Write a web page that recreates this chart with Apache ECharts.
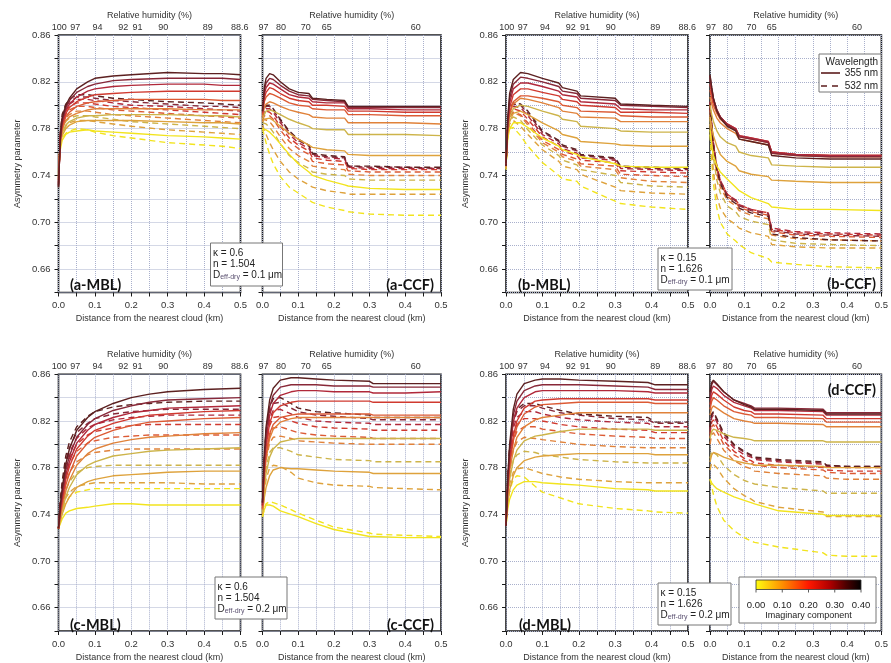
<!DOCTYPE html>
<html>
<head>
<meta charset="utf-8">
<script src="https://cdn.jsdelivr.net/npm/echarts@6/dist/echarts.min.js"></script>
<style>
  html, body { margin: 0; padding: 0; background: #fff; }
  #chart { width: 891px; height: 663px; }
</style>
</head>
<body>
<div id="chart"></div>
<script>
// imaginary component of the refractive index, one colour per value (yellow -> black)
const imagComponents = [0, 0.05, 0.10, 0.15, 0.20, 0.25, 0.30, 0.35, 0.40];
const lineColors = ['#f2e41e', '#dea23c', '#cdb44a', '#e0823a', '#dc5a34', '#d03a30', '#b0283a', '#882838', '#5c2020'];
const colorbarTicks = [0, 0.1, 0.2, 0.3, 0.4];

// top axis: relative humidity at given distance
const rhMBLPos = [0.002, 0.046, 0.107, 0.178, 0.217, 0.288, 0.41, 0.498];
const rhMBLLabels = ['100', '97', '94', '92', '91', '90', '89', '88.6'];
const rhCCFPos = [0.003, 0.052, 0.121, 0.18, 0.429];
const rhCCFLabels = ['97', '80', '70', '65', '60'];

// ---- (a) kappa 0.6, Deff 0.1 ----
const aMBL_x = [0, 0.005, 0.01, 0.02, 0.03, 0.05, 0.08, 0.1, 0.15, 0.2, 0.3, 0.4, 0.45, 0.5];
const aMBL_355 = [
  [0.745, 0.762, 0.770, 0.775, 0.777, 0.778, 0.779, 0.778, 0.777, 0.776, 0.774, 0.773, 0.772, 0.771],
  [0.742, 0.765, 0.774, 0.780, 0.783, 0.786, 0.787, 0.787, 0.787, 0.787, 0.786, 0.785, 0.785, 0.784],
  [0.740, 0.766, 0.776, 0.783, 0.786, 0.789, 0.791, 0.791, 0.792, 0.792, 0.792, 0.791, 0.791, 0.790],
  [0.738, 0.768, 0.779, 0.787, 0.790, 0.793, 0.796, 0.797, 0.797, 0.797, 0.797, 0.796, 0.796, 0.796],
  [0.736, 0.769, 0.781, 0.790, 0.794, 0.799, 0.802, 0.803, 0.804, 0.805, 0.805, 0.805, 0.804, 0.804],
  [0.734, 0.770, 0.783, 0.793, 0.798, 0.803, 0.807, 0.809, 0.810, 0.811, 0.812, 0.812, 0.812, 0.812],
  [0.732, 0.771, 0.785, 0.796, 0.801, 0.807, 0.812, 0.814, 0.816, 0.817, 0.818, 0.818, 0.817, 0.817],
  [0.731, 0.772, 0.787, 0.798, 0.804, 0.811, 0.816, 0.818, 0.821, 0.822, 0.823, 0.823, 0.823, 0.822],
  [0.730, 0.773, 0.789, 0.800, 0.806, 0.814, 0.820, 0.823, 0.825, 0.826, 0.828, 0.827, 0.827, 0.826]
];
const aMBL_532 = [
  [0.748, 0.765, 0.772, 0.776, 0.778, 0.780, 0.779, 0.777, 0.774, 0.772, 0.768, 0.766, 0.765, 0.763],
  [0.745, 0.768, 0.776, 0.782, 0.785, 0.787, 0.787, 0.786, 0.784, 0.782, 0.779, 0.777, 0.776, 0.775],
  [0.743, 0.770, 0.779, 0.786, 0.789, 0.791, 0.791, 0.790, 0.788, 0.786, 0.784, 0.782, 0.781, 0.780],
  [0.740, 0.772, 0.782, 0.789, 0.792, 0.795, 0.795, 0.794, 0.792, 0.791, 0.789, 0.787, 0.786, 0.785],
  [0.738, 0.773, 0.784, 0.792, 0.796, 0.799, 0.799, 0.798, 0.796, 0.795, 0.793, 0.791, 0.790, 0.789],
  [0.736, 0.774, 0.786, 0.795, 0.799, 0.802, 0.802, 0.801, 0.799, 0.798, 0.796, 0.794, 0.793, 0.792],
  [0.734, 0.775, 0.788, 0.797, 0.801, 0.805, 0.805, 0.804, 0.802, 0.800, 0.799, 0.797, 0.796, 0.795],
  [0.732, 0.776, 0.790, 0.799, 0.803, 0.807, 0.807, 0.806, 0.804, 0.803, 0.801, 0.799, 0.799, 0.798],
  [0.730, 0.777, 0.792, 0.801, 0.805, 0.809, 0.809, 0.808, 0.806, 0.805, 0.803, 0.802, 0.801, 0.800]
];

const aCCF_x = [0, 0.005, 0.01, 0.02, 0.03, 0.05, 0.075, 0.1, 0.13, 0.14, 0.18, 0.23, 0.24, 0.3, 0.4, 0.5];
const aCCF_355 = [
  [0.780, 0.780, 0.779, 0.777, 0.774, 0.767, 0.758, 0.750, 0.743, 0.740, 0.736, 0.732, 0.731, 0.729, 0.728, 0.728],
  [0.786, 0.788, 0.789, 0.789, 0.787, 0.782, 0.776, 0.771, 0.766, 0.764, 0.762, 0.761, 0.758, 0.757, 0.757, 0.757],
  [0.788, 0.792, 0.795, 0.796, 0.795, 0.792, 0.788, 0.785, 0.782, 0.780, 0.779, 0.779, 0.775, 0.775, 0.775, 0.774],
  [0.790, 0.798, 0.801, 0.803, 0.802, 0.799, 0.796, 0.794, 0.792, 0.790, 0.789, 0.789, 0.785, 0.785, 0.785, 0.784],
  [0.792, 0.803, 0.807, 0.810, 0.809, 0.806, 0.802, 0.800, 0.799, 0.797, 0.796, 0.796, 0.792, 0.792, 0.791, 0.791],
  [0.793, 0.806, 0.811, 0.815, 0.814, 0.810, 0.806, 0.804, 0.803, 0.800, 0.800, 0.799, 0.795, 0.795, 0.794, 0.794],
  [0.794, 0.809, 0.815, 0.819, 0.818, 0.814, 0.809, 0.807, 0.806, 0.803, 0.802, 0.802, 0.797, 0.797, 0.796, 0.796],
  [0.795, 0.812, 0.819, 0.823, 0.822, 0.817, 0.812, 0.809, 0.808, 0.805, 0.804, 0.803, 0.798, 0.798, 0.798, 0.798],
  [0.795, 0.815, 0.823, 0.827, 0.826, 0.820, 0.814, 0.811, 0.810, 0.806, 0.805, 0.804, 0.799, 0.799, 0.799, 0.799]
];
const aCCF_532 = [
  [0.780, 0.774, 0.768, 0.758, 0.750, 0.739, 0.730, 0.725, 0.719, 0.717, 0.713, 0.710, 0.709, 0.707, 0.706, 0.706],
  [0.783, 0.779, 0.775, 0.768, 0.762, 0.752, 0.743, 0.737, 0.732, 0.730, 0.727, 0.725, 0.724, 0.724, 0.724, 0.724],
  [0.785, 0.785, 0.784, 0.781, 0.777, 0.767, 0.757, 0.751, 0.746, 0.743, 0.741, 0.740, 0.737, 0.736, 0.736, 0.736],
  [0.786, 0.788, 0.788, 0.786, 0.782, 0.773, 0.763, 0.757, 0.752, 0.748, 0.746, 0.745, 0.741, 0.740, 0.740, 0.740],
  [0.787, 0.791, 0.792, 0.791, 0.788, 0.779, 0.769, 0.763, 0.758, 0.752, 0.750, 0.749, 0.744, 0.743, 0.743, 0.743],
  [0.788, 0.793, 0.795, 0.794, 0.791, 0.782, 0.772, 0.766, 0.761, 0.755, 0.753, 0.752, 0.746, 0.745, 0.745, 0.745],
  [0.789, 0.795, 0.797, 0.797, 0.794, 0.785, 0.775, 0.768, 0.763, 0.757, 0.755, 0.754, 0.747, 0.746, 0.746, 0.746],
  [0.790, 0.796, 0.799, 0.799, 0.796, 0.787, 0.777, 0.770, 0.765, 0.758, 0.756, 0.755, 0.748, 0.747, 0.747, 0.746],
  [0.790, 0.797, 0.800, 0.800, 0.797, 0.788, 0.778, 0.771, 0.766, 0.759, 0.757, 0.756, 0.748, 0.748, 0.747, 0.747]
];

// ---- (b) kappa 0.15, Deff 0.1 ----
const bMBL_x = [0, 0.005, 0.01, 0.02, 0.04, 0.06, 0.1, 0.145, 0.155, 0.195, 0.205, 0.3, 0.315, 0.4, 0.5];
const bMBL_355 = [
  [0.750, 0.772, 0.780, 0.785, 0.785, 0.781, 0.772, 0.765, 0.762, 0.758, 0.756, 0.750, 0.748, 0.747, 0.747],
  [0.750, 0.778, 0.786, 0.793, 0.795, 0.792, 0.785, 0.778, 0.775, 0.772, 0.769, 0.767, 0.766, 0.765, 0.765],
  [0.750, 0.780, 0.790, 0.797, 0.800, 0.799, 0.795, 0.791, 0.788, 0.786, 0.782, 0.780, 0.778, 0.777, 0.777],
  [0.750, 0.782, 0.793, 0.801, 0.806, 0.805, 0.802, 0.798, 0.795, 0.793, 0.790, 0.789, 0.786, 0.786, 0.786],
  [0.750, 0.782, 0.794, 0.803, 0.808, 0.808, 0.806, 0.803, 0.800, 0.798, 0.795, 0.794, 0.791, 0.790, 0.790],
  [0.750, 0.784, 0.798, 0.809, 0.814, 0.814, 0.811, 0.808, 0.805, 0.803, 0.800, 0.798, 0.794, 0.794, 0.793],
  [0.750, 0.786, 0.802, 0.814, 0.819, 0.819, 0.816, 0.812, 0.809, 0.807, 0.803, 0.801, 0.797, 0.796, 0.796],
  [0.750, 0.788, 0.806, 0.818, 0.824, 0.823, 0.820, 0.816, 0.812, 0.810, 0.806, 0.804, 0.800, 0.799, 0.798],
  [0.750, 0.790, 0.810, 0.822, 0.828, 0.827, 0.823, 0.819, 0.815, 0.812, 0.808, 0.806, 0.801, 0.800, 0.799]
];
const bMBL_532 = [
  [0.745, 0.774, 0.780, 0.781, 0.774, 0.765, 0.751, 0.740, 0.737, 0.735, 0.731, 0.718, 0.716, 0.713, 0.711],
  [0.746, 0.776, 0.784, 0.787, 0.782, 0.775, 0.762, 0.752, 0.748, 0.745, 0.741, 0.730, 0.727, 0.725, 0.724],
  [0.747, 0.778, 0.787, 0.790, 0.787, 0.779, 0.766, 0.757, 0.753, 0.749, 0.745, 0.740, 0.734, 0.731, 0.730],
  [0.747, 0.780, 0.790, 0.794, 0.791, 0.783, 0.768, 0.760, 0.756, 0.752, 0.748, 0.745, 0.738, 0.735, 0.734],
  [0.748, 0.780, 0.790, 0.794, 0.792, 0.785, 0.770, 0.762, 0.758, 0.754, 0.750, 0.748, 0.741, 0.740, 0.739],
  [0.748, 0.782, 0.792, 0.797, 0.795, 0.788, 0.773, 0.765, 0.761, 0.757, 0.753, 0.751, 0.744, 0.743, 0.742],
  [0.748, 0.783, 0.794, 0.799, 0.798, 0.791, 0.775, 0.767, 0.763, 0.759, 0.755, 0.753, 0.746, 0.745, 0.744],
  [0.748, 0.784, 0.796, 0.801, 0.800, 0.793, 0.777, 0.769, 0.765, 0.761, 0.757, 0.754, 0.747, 0.746, 0.745],
  [0.748, 0.785, 0.797, 0.802, 0.801, 0.795, 0.778, 0.770, 0.766, 0.762, 0.758, 0.755, 0.748, 0.747, 0.746]
];

const bCCF_x = [0, 0.005, 0.01, 0.02, 0.03, 0.05, 0.075, 0.085, 0.12, 0.17, 0.18, 0.25, 0.35, 0.5];
const bCCF_355 = [
  [0.779, 0.766, 0.757, 0.748, 0.743, 0.737, 0.730, 0.727, 0.721, 0.716, 0.713, 0.711, 0.711, 0.710],
  [0.790, 0.781, 0.774, 0.765, 0.758, 0.752, 0.748, 0.744, 0.741, 0.739, 0.736, 0.735, 0.734, 0.734],
  [0.800, 0.792, 0.786, 0.778, 0.773, 0.768, 0.765, 0.760, 0.757, 0.755, 0.749, 0.748, 0.747, 0.747],
  [0.807, 0.801, 0.796, 0.789, 0.785, 0.780, 0.776, 0.771, 0.769, 0.766, 0.759, 0.757, 0.756, 0.756],
  [0.813, 0.806, 0.800, 0.793, 0.788, 0.783, 0.779, 0.773, 0.771, 0.768, 0.760, 0.758, 0.757, 0.757],
  [0.818, 0.810, 0.803, 0.795, 0.790, 0.784, 0.780, 0.774, 0.772, 0.769, 0.760, 0.758, 0.757, 0.757],
  [0.822, 0.813, 0.805, 0.796, 0.790, 0.784, 0.780, 0.774, 0.772, 0.769, 0.760, 0.758, 0.757, 0.757],
  [0.825, 0.815, 0.806, 0.796, 0.790, 0.783, 0.779, 0.773, 0.771, 0.768, 0.759, 0.757, 0.756, 0.756],
  [0.826, 0.815, 0.806, 0.795, 0.789, 0.782, 0.778, 0.771, 0.769, 0.766, 0.757, 0.755, 0.754, 0.754]
];
const bCCF_532 = [
  [0.775, 0.752, 0.733, 0.712, 0.700, 0.690, 0.684, 0.681, 0.674, 0.669, 0.666, 0.664, 0.662, 0.661],
  [0.784, 0.762, 0.743, 0.722, 0.712, 0.703, 0.698, 0.695, 0.691, 0.688, 0.681, 0.679, 0.678, 0.678],
  [0.788, 0.771, 0.755, 0.736, 0.725, 0.714, 0.709, 0.705, 0.701, 0.698, 0.685, 0.682, 0.681, 0.680],
  [0.792, 0.776, 0.760, 0.741, 0.730, 0.719, 0.714, 0.710, 0.706, 0.703, 0.689, 0.686, 0.685, 0.684],
  [0.796, 0.780, 0.764, 0.745, 0.734, 0.722, 0.717, 0.713, 0.709, 0.706, 0.692, 0.689, 0.688, 0.687],
  [0.800, 0.783, 0.767, 0.747, 0.736, 0.724, 0.719, 0.715, 0.711, 0.708, 0.694, 0.691, 0.690, 0.689],
  [0.803, 0.785, 0.768, 0.748, 0.736, 0.724, 0.719, 0.715, 0.711, 0.708, 0.695, 0.692, 0.691, 0.690],
  [0.802, 0.784, 0.767, 0.747, 0.735, 0.723, 0.718, 0.714, 0.710, 0.707, 0.693, 0.690, 0.689, 0.688],
  [0.800, 0.782, 0.765, 0.745, 0.733, 0.721, 0.716, 0.712, 0.708, 0.705, 0.690, 0.687, 0.685, 0.684]
];

// ---- (c) kappa 0.6, Deff 0.2 ----
const cMBL_x = [0, 0.005, 0.01, 0.02, 0.03, 0.05, 0.08, 0.1, 0.15, 0.2, 0.25, 0.3, 0.4, 0.5];
const cMBL_355 = [
  [0.728, 0.732, 0.736, 0.741, 0.743, 0.745, 0.746, 0.747, 0.749, 0.749, 0.748, 0.748, 0.748, 0.748],
  [0.728, 0.734, 0.740, 0.749, 0.755, 0.763, 0.768, 0.770, 0.773, 0.774, 0.775, 0.776, 0.777, 0.777],
  [0.728, 0.736, 0.743, 0.755, 0.763, 0.774, 0.782, 0.785, 0.790, 0.792, 0.794, 0.795, 0.796, 0.797],
  [0.728, 0.738, 0.746, 0.760, 0.769, 0.782, 0.792, 0.796, 0.801, 0.804, 0.806, 0.807, 0.809, 0.810],
  [0.728, 0.740, 0.749, 0.765, 0.775, 0.790, 0.801, 0.806, 0.812, 0.816, 0.819, 0.820, 0.822, 0.823],
  [0.728, 0.742, 0.752, 0.770, 0.781, 0.796, 0.807, 0.812, 0.818, 0.822, 0.825, 0.826, 0.828, 0.829],
  [0.728, 0.744, 0.755, 0.774, 0.785, 0.801, 0.812, 0.817, 0.823, 0.827, 0.829, 0.831, 0.832, 0.833],
  [0.728, 0.746, 0.758, 0.778, 0.790, 0.806, 0.817, 0.822, 0.829, 0.833, 0.836, 0.838, 0.839, 0.840],
  [0.728, 0.748, 0.762, 0.783, 0.796, 0.812, 0.823, 0.828, 0.835, 0.840, 0.843, 0.845, 0.847, 0.848]
];
const cMBL_532 = [
  [0.728, 0.735, 0.741, 0.750, 0.755, 0.759, 0.761, 0.762, 0.762, 0.762, 0.762, 0.762, 0.762, 0.762],
  [0.728, 0.737, 0.744, 0.754, 0.759, 0.764, 0.766, 0.767, 0.767, 0.767, 0.767, 0.767, 0.766, 0.766],
  [0.728, 0.740, 0.748, 0.761, 0.768, 0.776, 0.780, 0.781, 0.782, 0.782, 0.782, 0.782, 0.782, 0.782],
  [0.728, 0.742, 0.752, 0.767, 0.776, 0.785, 0.791, 0.793, 0.795, 0.796, 0.796, 0.796, 0.796, 0.796],
  [0.728, 0.744, 0.756, 0.773, 0.783, 0.794, 0.801, 0.803, 0.806, 0.807, 0.808, 0.808, 0.808, 0.808],
  [0.728, 0.746, 0.759, 0.778, 0.788, 0.800, 0.808, 0.811, 0.814, 0.816, 0.817, 0.817, 0.817, 0.817],
  [0.728, 0.748, 0.762, 0.782, 0.793, 0.805, 0.814, 0.817, 0.821, 0.823, 0.824, 0.825, 0.825, 0.825],
  [0.728, 0.750, 0.765, 0.786, 0.797, 0.810, 0.818, 0.822, 0.826, 0.828, 0.829, 0.830, 0.830, 0.830],
  [0.728, 0.752, 0.768, 0.790, 0.802, 0.815, 0.824, 0.828, 0.832, 0.834, 0.835, 0.836, 0.837, 0.837]
];

const cCCF_x = [0, 0.005, 0.01, 0.02, 0.03, 0.05, 0.08, 0.1, 0.15, 0.2, 0.3, 0.31, 0.4, 0.5];
const cCCF_355 = [
  [0.738, 0.744, 0.748, 0.748, 0.747, 0.743, 0.740, 0.738, 0.732, 0.727, 0.721, 0.721, 0.720, 0.720],
  [0.740, 0.754, 0.763, 0.773, 0.778, 0.780, 0.779, 0.779, 0.778, 0.777, 0.776, 0.775, 0.775, 0.775],
  [0.742, 0.762, 0.775, 0.789, 0.796, 0.802, 0.804, 0.805, 0.805, 0.805, 0.805, 0.805, 0.805, 0.805],
  [0.744, 0.770, 0.787, 0.805, 0.813, 0.819, 0.822, 0.823, 0.823, 0.823, 0.823, 0.823, 0.823, 0.823],
  [0.745, 0.773, 0.791, 0.809, 0.817, 0.823, 0.825, 0.826, 0.826, 0.826, 0.826, 0.825, 0.825, 0.825],
  [0.747, 0.778, 0.798, 0.818, 0.827, 0.833, 0.836, 0.837, 0.837, 0.837, 0.837, 0.836, 0.836, 0.836],
  [0.748, 0.782, 0.804, 0.825, 0.835, 0.842, 0.845, 0.846, 0.846, 0.845, 0.845, 0.844, 0.844, 0.845],
  [0.750, 0.786, 0.810, 0.832, 0.842, 0.849, 0.851, 0.851, 0.851, 0.850, 0.850, 0.849, 0.849, 0.849],
  [0.750, 0.790, 0.815, 0.838, 0.848, 0.855, 0.857, 0.857, 0.856, 0.855, 0.854, 0.852, 0.852, 0.852]
];
const cCCF_532 = [
  [0.738, 0.745, 0.749, 0.751, 0.750, 0.748, 0.744, 0.741, 0.735, 0.729, 0.724, 0.723, 0.722, 0.721],
  [0.740, 0.758, 0.770, 0.780, 0.782, 0.781, 0.776, 0.771, 0.767, 0.765, 0.764, 0.763, 0.762, 0.761],
  [0.742, 0.765, 0.780, 0.793, 0.797, 0.797, 0.794, 0.791, 0.789, 0.787, 0.786, 0.785, 0.785, 0.785],
  [0.744, 0.771, 0.787, 0.801, 0.806, 0.807, 0.805, 0.803, 0.802, 0.801, 0.800, 0.800, 0.800, 0.800],
  [0.745, 0.775, 0.792, 0.808, 0.814, 0.815, 0.812, 0.810, 0.808, 0.807, 0.806, 0.805, 0.805, 0.805],
  [0.747, 0.780, 0.799, 0.816, 0.823, 0.824, 0.820, 0.818, 0.815, 0.814, 0.813, 0.812, 0.812, 0.812],
  [0.748, 0.784, 0.804, 0.822, 0.829, 0.830, 0.826, 0.823, 0.820, 0.819, 0.818, 0.817, 0.817, 0.817],
  [0.750, 0.788, 0.809, 0.828, 0.835, 0.836, 0.831, 0.828, 0.825, 0.824, 0.822, 0.821, 0.821, 0.821],
  [0.750, 0.790, 0.812, 0.832, 0.839, 0.840, 0.835, 0.831, 0.828, 0.827, 0.825, 0.823, 0.823, 0.823]
];

// ---- (d) kappa 0.15, Deff 0.2 ----
const dMBL_x = [0, 0.005, 0.01, 0.02, 0.03, 0.05, 0.08, 0.1, 0.15, 0.2, 0.3, 0.39, 0.41, 0.5];
const dMBL_355 = [
  [0.730, 0.745, 0.753, 0.761, 0.765, 0.768, 0.768, 0.767, 0.766, 0.765, 0.762, 0.761, 0.760, 0.760],
  [0.730, 0.750, 0.761, 0.773, 0.780, 0.786, 0.789, 0.790, 0.791, 0.792, 0.792, 0.792, 0.791, 0.791],
  [0.730, 0.755, 0.770, 0.786, 0.795, 0.803, 0.807, 0.808, 0.811, 0.813, 0.813, 0.813, 0.812, 0.812],
  [0.730, 0.759, 0.777, 0.795, 0.806, 0.815, 0.821, 0.823, 0.825, 0.827, 0.827, 0.827, 0.827, 0.827],
  [0.730, 0.762, 0.782, 0.803, 0.815, 0.826, 0.832, 0.834, 0.835, 0.836, 0.836, 0.836, 0.835, 0.835],
  [0.730, 0.764, 0.785, 0.807, 0.820, 0.831, 0.837, 0.838, 0.839, 0.839, 0.839, 0.839, 0.838, 0.838],
  [0.730, 0.768, 0.792, 0.819, 0.831, 0.840, 0.845, 0.846, 0.846, 0.846, 0.846, 0.845, 0.844, 0.844],
  [0.730, 0.770, 0.796, 0.825, 0.837, 0.846, 0.850, 0.851, 0.851, 0.851, 0.850, 0.849, 0.847, 0.847],
  [0.730, 0.772, 0.800, 0.830, 0.843, 0.852, 0.855, 0.856, 0.856, 0.855, 0.854, 0.853, 0.851, 0.851]
];
const dMBL_532 = [
  [0.730, 0.750, 0.760, 0.770, 0.773, 0.772, 0.764, 0.759, 0.754, 0.749, 0.745, 0.743, 0.742, 0.741],
  [0.730, 0.754, 0.766, 0.776, 0.779, 0.780, 0.777, 0.775, 0.772, 0.770, 0.768, 0.767, 0.767, 0.767],
  [0.730, 0.758, 0.773, 0.786, 0.791, 0.794, 0.793, 0.791, 0.789, 0.787, 0.785, 0.784, 0.784, 0.784],
  [0.730, 0.762, 0.779, 0.795, 0.802, 0.806, 0.805, 0.804, 0.802, 0.800, 0.798, 0.797, 0.797, 0.797],
  [0.730, 0.765, 0.784, 0.803, 0.811, 0.815, 0.815, 0.813, 0.811, 0.809, 0.807, 0.806, 0.805, 0.805],
  [0.730, 0.767, 0.788, 0.809, 0.817, 0.822, 0.822, 0.820, 0.817, 0.815, 0.813, 0.812, 0.810, 0.810],
  [0.730, 0.769, 0.792, 0.814, 0.823, 0.828, 0.828, 0.826, 0.823, 0.821, 0.819, 0.818, 0.815, 0.815],
  [0.730, 0.771, 0.795, 0.818, 0.828, 0.833, 0.833, 0.831, 0.827, 0.825, 0.822, 0.821, 0.818, 0.818],
  [0.730, 0.772, 0.797, 0.820, 0.830, 0.835, 0.835, 0.833, 0.829, 0.826, 0.824, 0.823, 0.819, 0.819]
];

const dCCF_x = [0, 0.005, 0.01, 0.02, 0.04, 0.07, 0.1, 0.12, 0.13, 0.2, 0.33, 0.34, 0.4, 0.5];
const dCCF_355 = [
  [0.770, 0.767, 0.765, 0.762, 0.759, 0.755, 0.752, 0.750, 0.749, 0.743, 0.740, 0.739, 0.739, 0.739],
  [0.785, 0.791, 0.793, 0.792, 0.789, 0.786, 0.784, 0.783, 0.782, 0.782, 0.781, 0.780, 0.780, 0.780],
  [0.805, 0.811, 0.813, 0.812, 0.809, 0.806, 0.805, 0.804, 0.803, 0.803, 0.803, 0.802, 0.802, 0.802],
  [0.825, 0.831, 0.833, 0.831, 0.827, 0.822, 0.820, 0.819, 0.818, 0.818, 0.817, 0.815, 0.815, 0.815],
  [0.830, 0.837, 0.840, 0.838, 0.833, 0.828, 0.826, 0.825, 0.823, 0.823, 0.822, 0.819, 0.819, 0.819],
  [0.834, 0.842, 0.845, 0.843, 0.838, 0.832, 0.829, 0.828, 0.826, 0.826, 0.825, 0.822, 0.822, 0.822],
  [0.838, 0.847, 0.850, 0.848, 0.842, 0.836, 0.833, 0.831, 0.829, 0.829, 0.828, 0.825, 0.825, 0.825],
  [0.842, 0.851, 0.854, 0.851, 0.845, 0.838, 0.835, 0.833, 0.831, 0.831, 0.830, 0.827, 0.827, 0.827],
  [0.845, 0.853, 0.855, 0.852, 0.845, 0.838, 0.834, 0.832, 0.830, 0.830, 0.829, 0.826, 0.826, 0.826]
];
const dCCF_532 = [
  [0.770, 0.764, 0.757, 0.747, 0.735, 0.726, 0.720, 0.717, 0.716, 0.712, 0.707, 0.705, 0.704, 0.704],
  [0.778, 0.784, 0.784, 0.780, 0.771, 0.762, 0.756, 0.753, 0.751, 0.746, 0.742, 0.738, 0.738, 0.738],
  [0.788, 0.794, 0.795, 0.791, 0.782, 0.774, 0.769, 0.767, 0.766, 0.763, 0.760, 0.758, 0.758, 0.758],
  [0.800, 0.808, 0.810, 0.805, 0.795, 0.786, 0.781, 0.779, 0.777, 0.775, 0.773, 0.771, 0.770, 0.770],
  [0.806, 0.815, 0.817, 0.811, 0.800, 0.791, 0.786, 0.784, 0.782, 0.780, 0.778, 0.776, 0.775, 0.775],
  [0.809, 0.819, 0.821, 0.815, 0.803, 0.794, 0.788, 0.786, 0.784, 0.782, 0.780, 0.778, 0.777, 0.777],
  [0.812, 0.823, 0.825, 0.819, 0.807, 0.797, 0.791, 0.789, 0.787, 0.785, 0.783, 0.781, 0.780, 0.780],
  [0.814, 0.825, 0.827, 0.821, 0.809, 0.799, 0.793, 0.790, 0.788, 0.786, 0.784, 0.782, 0.781, 0.781],
  [0.815, 0.826, 0.828, 0.822, 0.810, 0.800, 0.794, 0.791, 0.789, 0.787, 0.785, 0.782, 0.781, 0.781]
];

const FONT = '"Liberation Sans", Arial, sans-serif';
const TXT = '#333';

// layout of the eight plotting boxes
const TOP1 = 35, H1 = 257.5, TOP2 = 374.3, H2 = 257.8;
const panels = [
  { tag: '(a-MBL)', kind: 'MBL', x: aMBL_x, s: aMBL_355, d: aMBL_532, box: [58.5, TOP1, 182, H1], lab: [70, 285, 'left'] },
  { tag: '(a-CCF)', kind: 'CCF', x: aCCF_x, s: aCCF_355, d: aCCF_532, box: [262.5, TOP1, 178.5, H1], lab: [434, 285, 'right'] },
  { tag: '(b-MBL)', kind: 'MBL', x: bMBL_x, s: bMBL_355, d: bMBL_532, box: [506, TOP1, 182, H1], lab: [518, 285, 'left'] },
  { tag: '(b-CCF)', kind: 'CCF', x: bCCF_x, s: bCCF_355, d: bCCF_532, box: [710, TOP1, 178, H1], lab: [876, 284, 'right'] },
  { tag: '(c-MBL)', kind: 'MBL', x: cMBL_x, s: cMBL_355, d: cMBL_532, box: [58.5, TOP2, 182, H2], lab: [70, 625, 'left'] },
  { tag: '(c-CCF)', kind: 'CCF', x: cCCF_x, s: cCCF_355, d: cCCF_532, box: [262.5, TOP2, 178.5, H2], lab: [434, 625, 'right'] },
  { tag: '(d-MBL)', kind: 'MBL', x: dMBL_x, s: dMBL_355, d: dMBL_532, box: [506, TOP2, 182, H2], lab: [519, 625, 'left'] },
  { tag: '(d-CCF)', kind: 'CCF', x: dCCF_x, s: dCCF_355, d: dCCF_532, box: [710, TOP2, 178, H2], lab: [876, 390, 'right'] }
];

const grids = [], xAxes = [], yAxes = [], series = [];
const gridLine = { show: true, lineStyle: { color: '#a9b0cc', type: 'dotted', width: 1 } };

panels.forEach((p, i) => {
  const [l, t, w, h] = p.box;
  grids.push({ left: l, top: t, width: w, height: h, show: true, borderColor: '#1a1a1a', borderWidth: 1.6, backgroundColor: 'transparent' });
  const rhPos = p.kind === 'MBL' ? rhMBLPos : rhCCFPos;
  const rhLab = p.kind === 'MBL' ? rhMBLLabels : rhCCFLabels;
  xAxes.push({
    type: 'value', gridIndex: i, position: 'bottom', min: 0, max: 0.5, interval: 0.05,
    axisLine: { show: false },
    axisTick: { show: true, length: 4, lineStyle: { color: '#1a1a1a' } },
    axisLabel: { fontSize: 9.5, color: TXT, fontFamily: FONT, margin: 8,
      formatter: v => (Math.round(v * 100) % 10 === 0 ? v.toFixed(1) : '') },
    splitLine: gridLine,
    name: 'Distance from the nearest cloud (km)', nameLocation: 'middle', nameGap: 22,
    nameTextStyle: { fontSize: 9, color: TXT, fontFamily: FONT }
  });
  xAxes.push({
    type: 'value', gridIndex: i, position: 'top', min: 0, max: 0.5,
    axisLine: { show: false }, axisTick: { show: false }, splitLine: { show: false },
    axisLabel: { customValues: rhPos, fontSize: 9, color: TXT, fontFamily: FONT, margin: 3,
      formatter: v => { const k = rhPos.findIndex(q => Math.abs(q - v) < 1e-6); return k >= 0 ? rhLab[k] : ''; } },
    name: 'Relative humidity (%)', nameLocation: 'middle', nameGap: 15,
    nameTextStyle: { fontSize: 9, color: TXT, fontFamily: FONT }
  });
  yAxes.push({
    type: 'value', gridIndex: i, min: 0.64, max: 0.86, interval: 0.02,
    axisLine: { show: false },
    axisTick: { show: true, length: 4, lineStyle: { color: '#1a1a1a' } },
    axisLabel: { show: p.kind === 'MBL', fontSize: 9.5, color: TXT, fontFamily: FONT, margin: 8,
      formatter: v => (Math.round(v * 100) % 4 === 2 ? v.toFixed(2) : '') },
    splitLine: gridLine,
    name: p.kind === 'MBL' ? 'Asymmetry parameter' : '', nameLocation: 'middle', nameGap: 36, nameRotate: 90,
    nameTextStyle: { fontSize: 9, color: TXT, fontFamily: FONT }
  });
  imagComponents.forEach((im, j) => {
    series.push({
      type: 'line', xAxisIndex: 2 * i, yAxisIndex: i, symbol: 'none', silent: true, z: 2,
      name: '532 nm ' + im, data: p.x.map((x, k) => [x, p.d[j][k]]),
      lineStyle: { color: lineColors[j], width: 1.4, type: [6, 4] }
    });
    series.push({
      type: 'line', xAxisIndex: 2 * i, yAxisIndex: i, symbol: 'none', silent: true, z: 3,
      name: '355 nm ' + im, data: p.x.map((x, k) => [x, p.s[j][k]]),
      lineStyle: { color: lineColors[j], width: 1.4 }
    });
  });
});

// annotation boxes
const Z = 100;
function infoBox(x, y, w, h, kappa, n, dd) {
  return {
    type: 'group', z: Z, children: [
      { type: 'rect', z: Z, shape: { x: x, y: y, width: w, height: h }, style: { fill: '#fff', stroke: '#777', lineWidth: 1 } },
      { type: 'text', z: Z + 1, x: x + 2.5, y: y + 5, style: {
        text: '{t|κ = ' + kappa + '}\n{t|n = ' + n + '}\n{t|D}{s|eff-dry}{t| = ' + dd + ' μm}',
        rich: { t: { fontSize: 10, fontFamily: FONT, fill: '#222', lineHeight: 11 },
                s: { fontSize: 7, fontFamily: FONT, fill: '#5a5070', lineHeight: 11, verticalAlign: 'bottom', padding: [4, 0, 0, 0] } }
      } }
    ]
  };
}

const graphics = [
  infoBox(210.5, 243, 72, 43, '0.6', '1.504', '0.1'),
  infoBox(658, 248, 74, 42, '0.15', '1.626', '0.1'),
  infoBox(215, 577, 72, 42, '0.6', '1.504', '0.2'),
  infoBox(658, 583, 73, 42, '0.15', '1.626', '0.2')
];

panels.forEach(p => {
  graphics.push({ type: 'text', z: Z, x: p.lab[0], y: p.lab[1], style: {
    text: p.tag, fontSize: 14.5, fontWeight: 'bold', fontFamily: 'Lato, "Open Sans", sans-serif', fill: '#111',
    align: p.lab[2], verticalAlign: 'middle' } });
});

// wavelength legend
graphics.push({ type: 'group', z: Z, children: [
  { type: 'rect', z: Z, shape: { x: 819, y: 54, width: 62, height: 38 }, style: { fill: '#fff', stroke: '#777', lineWidth: 1 } },
  { type: 'text', z: Z + 1, x: 878, y: 62, style: { text: 'Wavelength', fontSize: 10, fontFamily: FONT, fill: '#222', align: 'right', verticalAlign: 'middle' } },
  { type: 'line', z: Z + 1, shape: { x1: 821, y1: 73, x2: 840, y2: 73 }, style: { stroke: '#5c1c1c', lineWidth: 1.6 } },
  { type: 'text', z: Z + 1, x: 878, y: 73, style: { text: '355 nm', fontSize: 10, fontFamily: FONT, fill: '#222', align: 'right', verticalAlign: 'middle' } },
  { type: 'line', z: Z + 1, shape: { x1: 821, y1: 86, x2: 840, y2: 86 }, style: { stroke: '#5c1c1c', lineWidth: 1.6, lineDash: [6, 5] } },
  { type: 'text', z: Z + 1, x: 878, y: 86, style: { text: '532 nm', fontSize: 10, fontFamily: FONT, fill: '#222', align: 'right', verticalAlign: 'middle' } }
] });

// imaginary component colour bar
const cbX = 756, cbW = 105, cbY = 580, cbH = 9.5;
const cbChildren = [
  { type: 'rect', z: Z, shape: { x: 739, y: 577, width: 137, height: 46 }, style: { fill: '#fff', stroke: '#777', lineWidth: 1 } },
  { type: 'rect', z: Z + 1, shape: { x: cbX, y: cbY, width: cbW, height: cbH }, style: {
    fill: new echarts.graphic.LinearGradient(0, 0, 1, 0, [
      { offset: 0, color: '#ffff10' }, { offset: 0.25, color: '#ff9000' }, { offset: 0.5, color: '#ff1800' },
      { offset: 0.7, color: '#b00000' }, { offset: 0.86, color: '#4a0000' }, { offset: 1, color: '#000000' }]),
    stroke: '#333', lineWidth: 0.8 } },
  { type: 'text', z: Z + 1, x: 808.5, y: 616, style: { text: 'Imaginary component', fontSize: 9, fontFamily: FONT, fill: '#222', align: 'center', verticalAlign: 'middle' } }
];
colorbarTicks.forEach(v => {
  const px = cbX + cbW * v / 0.4;
  cbChildren.push({ type: 'line', z: Z + 1, shape: { x1: px, y1: cbY + cbH, x2: px, y2: cbY + cbH + 3 }, style: { stroke: '#333', lineWidth: 0.8 } });
  cbChildren.push({ type: 'text', z: Z + 1, x: px, y: 605, style: { text: v.toFixed(2), fontSize: 9.5, fontFamily: FONT, fill: '#222', align: 'center', verticalAlign: 'middle' } });
});
graphics.push({ type: 'group', z: Z, children: cbChildren });

const chart = echarts.init(document.getElementById('chart'), null, { renderer: 'canvas' });
chart.setOption({
  backgroundColor: '#fff',
  animation: false,
  grid: grids,
  xAxis: xAxes,
  yAxis: yAxes,
  series: series,
  graphic: graphics
});
</script>
</body>
</html>
